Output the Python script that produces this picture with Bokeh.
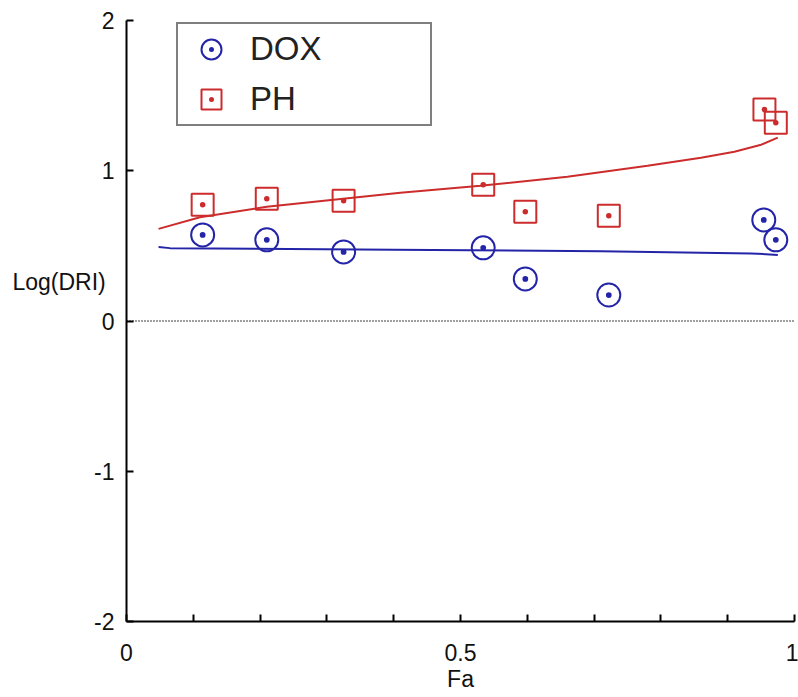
from bokeh.plotting import figure
from bokeh.models import Range1d, FixedTicker, Label, Legend, LegendItem
from bokeh.embed import file_html
from bokeh.resources import INLINE

# ---- data ----
fa_dox = [0.114, 0.21, 0.325, 0.534, 0.597, 0.722, 0.954, 0.972]
logdri_dox = [0.573, 0.54, 0.46, 0.487, 0.28, 0.173, 0.673, 0.54]

fa_ph = [0.114, 0.21, 0.325, 0.534, 0.597, 0.722, 0.955, 0.972]
logdri_ph = [0.773, 0.813, 0.80, 0.907, 0.727, 0.70, 1.407, 1.32]

fit_fa_dox = [0.048, 0.065, 0.40, 0.71, 0.935, 0.975]
fit_dox = [0.493, 0.485, 0.475, 0.465, 0.45, 0.44]

fit_fa_ph = [0.048, 0.11, 0.21, 0.31, 0.41, 0.53, 0.66, 0.78, 0.86, 0.91, 0.95, 0.975]
fit_ph = [0.613, 0.69, 0.76, 0.807, 0.853, 0.90, 0.96, 1.033, 1.087, 1.127, 1.173, 1.22]

x_bounds = (0, 1)
y_bounds = (-2, 2)
x_major_ticks = [0, 0.5, 1]
x_tick_labels = ["0", "0.5", "1"]
x_minor_ticks = [0.1, 0.2, 0.3, 0.4, 0.6, 0.7, 0.8, 0.9]
y_ticks = [-2, -1, 0, 1, 2]
y_tick_labels = ["-2", "-1", "0", "1", "2"]

BLUE = "#2424a8"
RED = "#cc2c2c"
FONT = "Liberation Sans"
TXT = "#111111"

# ---- layout: the frame covers the whole canvas; axes are drawn inside it ----
W, H = 798, 697
X0_PX, XPX = 126, 668        # pixel of Fa=0, pixels per unit Fa
Y2_PX, YPX = 20, 150.25      # pixel of Log(DRI)=2, pixels per unit
x_view = (-X0_PX / XPX, (W - X0_PX) / XPX)
y_view = (2 - (H - Y2_PX) / YPX, 2 + Y2_PX / YPX)

p = figure(width=W, height=H, output_backend="svg", toolbar_location=None,
           x_range=Range1d(*x_view), y_range=Range1d(*y_view),
           min_border_left=0, min_border_right=0, min_border_top=0,
           min_border_bottom=0)
p.outline_line_color = None
p.grid.visible = False
p.background_fill_color = "white"

for ax in (p.xaxis[0], p.yaxis[0]):
    ax.axis_line_width = 2
    ax.axis_line_color = "black"
    ax.major_tick_line_width = 2
    ax.major_tick_line_color = "black"
    ax.major_tick_in = 7
    ax.major_tick_out = 0
    ax.major_label_text_font = FONT
    ax.major_label_text_font_size = "23px"
    ax.major_label_text_color = TXT

p.xaxis.fixed_location = y_bounds[0]
p.xaxis.bounds = x_bounds
p.xaxis.ticker = FixedTicker(ticks=x_major_ticks, minor_ticks=x_minor_ticks)
p.xaxis.major_label_overrides = {t: s for t, s in zip(x_major_ticks, x_tick_labels)}
p.xaxis.minor_tick_in = 7
p.xaxis.minor_tick_out = 0
p.xaxis.minor_tick_line_width = 2
p.xaxis.minor_tick_line_color = "black"
p.xaxis.major_label_standoff = 22

p.yaxis.fixed_location = x_bounds[0]
p.yaxis.bounds = y_bounds
p.yaxis.ticker = FixedTicker(ticks=y_ticks, minor_ticks=[])
p.yaxis.major_label_overrides = {t: s for t, s in zip(y_ticks, y_tick_labels)}
p.yaxis.minor_tick_line_color = None
p.yaxis.major_label_standoff = 12

# zero reference line (dotted)
p.segment(x0=[x_bounds[0]], y0=[0], x1=[x_bounds[1]], y1=[0],
          line_color="black", line_width=1.3, line_dash="1 2")

# fitted lines
p.line(fit_fa_ph, fit_ph, line_color=RED, line_width=2)
p.line(fit_fa_dox, fit_dox, line_color=BLUE, line_width=2)

# data points
r_dox = p.scatter(fa_dox, logdri_dox, marker="circle_dot", size=23,
                  fill_color=None, line_color=BLUE, line_width=2)
r_ph = p.scatter(fa_ph, logdri_ph, marker="square_dot", size=22,
                 fill_color=None, line_color=RED, line_width=2)

# axis titles
p.add_layout(Label(x=-0.1707, y=0.26, text="Log(DRI)", text_font=FONT,
                   text_font_size="23px", text_baseline="middle",
                   text_align="left", text_color=TXT))
p.add_layout(Label(x=0.5, y=-2.385, text="Fa", text_font=FONT,
                   text_font_size="23px", text_baseline="middle",
                   text_align="center", text_color=TXT))

legend = Legend(items=[LegendItem(label="DOX", renderers=[r_dox]),
                       LegendItem(label="PH", renderers=[r_ph])],
                location=(176, H - 126), margin=0, padding=0, spacing=0,
                glyph_width=66, glyph_height=50, label_standoff=6,
                label_width=180, border_line_color="black",
                border_line_width=2, label_text_font=FONT,
                label_text_font_size="33px", label_text_color="#222222",
                background_fill_alpha=1.0)
p.add_layout(legend)

open("out.html", "w").write(file_html(p, INLINE))
